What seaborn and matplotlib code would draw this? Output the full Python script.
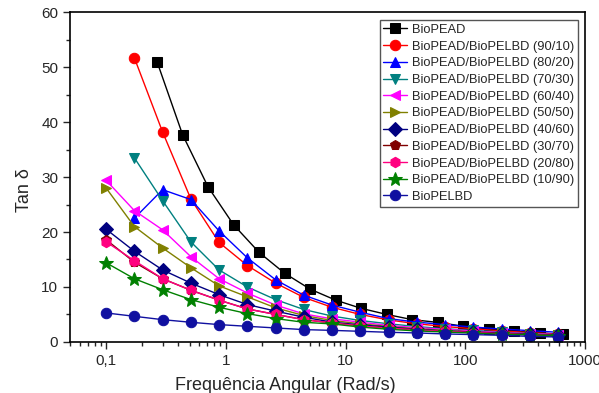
import numpy as np
import pandas as pd
import matplotlib
matplotlib.use("Agg")
import matplotlib.pyplot as plt
import seaborn as sns
from matplotlib.ticker import FixedLocator, FuncFormatter, NullFormatter

# Frequencies (rad/s)
freq_pead = [0.266, 0.435, 0.71, 1.16, 1.89, 3.09, 5.05, 8.25, 13.5, 22.0,
             36.0, 58.7, 96.0, 157, 256, 418, 650]
freq = [0.1, 0.172, 0.296, 0.51, 0.877, 1.51, 2.6, 4.47, 7.7, 13.2,
        22.8, 39.2, 67.5, 116, 200, 344, 597]

# Tan delta per sample
pead = [51.0, 37.7, 28.2, 21.3, 16.3, 12.5, 9.6, 7.6, 6.1, 5.0, 4.05, 3.55, 2.85, 2.35, 1.95, 1.65, 1.35]
b90_10 = [51.7, 38.2, 26.0, 18.1, 13.9, 10.7, 8.1, 6.3, 5.0, 4.0, 3.3, 2.8, 2.4, 2.0, 1.7, 1.4]
b80_20 = [22.5, 27.7, 25.9, 20.2, 15.3, 11.3, 8.5, 6.7, 5.4, 4.24, 3.6, 3.15, 2.7, 2.35, 2.05, 1.75]
b70_30 = [33.5, 25.7, 18.2, 13.1, 10.0, 7.7, 5.9, 4.7, 3.9, 3.3, 2.8, 2.4, 2.1, 1.8, 1.5, 1.3]
b60_40 = [29.4, 23.9, 20.4, 15.5, 11.5, 8.9, 6.7, 5.1, 4.2, 3.6, 3.0, 2.6, 2.3, 2.0, 1.7, 1.5, 1.3]
b50_50 = [28.0, 21.0, 17.1, 13.5, 10.2, 8.2, 6.2, 4.8, 3.9, 3.3, 2.8, 2.4, 2.1, 1.8, 1.6, 1.4, 1.2]
b40_60 = [20.5, 16.5, 13.1, 10.7, 8.6, 6.8, 5.6, 4.5, 3.6, 3.1, 2.7, 2.3, 2.0, 1.8, 1.6, 1.4, 1.2]
b30_70 = [18.6, 14.5, 11.5, 9.4, 7.6, 6.0, 5.0, 4.05, 3.45, 2.9, 2.5, 2.2, 1.9, 1.7, 1.5, 1.3, 1.1]
b20_80 = [18.2, 14.8, 11.5, 9.4, 7.6, 6.0, 5.0, 4.05, 3.45, 2.9, 2.5, 2.2, 1.9, 1.7, 1.5, 1.3, 1.1]
b10_90 = [14.4, 11.5, 9.5, 7.7, 6.3, 5.15, 4.25, 3.57, 3.27, 2.7, 2.3, 2.0, 1.8, 1.6, 1.4, 1.3, 1.1]
pelbd = [5.27, 4.66, 4.05, 3.57, 3.15, 2.84, 2.54, 2.24, 2.1, 1.93, 1.75, 1.63, 1.45, 1.33, 1.2, 1.0, 0.9]

labels = ["BioPEAD", "BioPEAD/BioPELBD (90/10)", "BioPEAD/BioPELBD (80/20)",
          "BioPEAD/BioPELBD (70/30)", "BioPEAD/BioPELBD (60/40)", "BioPEAD/BioPELBD (50/50)",
          "BioPEAD/BioPELBD (40/60)", "BioPEAD/BioPELBD (30/70)", "BioPEAD/BioPELBD (20/80)",
          "BioPEAD/BioPELBD (10/90)", "BioPELBD"]
series = [pead, b90_10, b80_20, b70_30, b60_40, b50_50, b40_60, b30_70, b20_80, b10_90, pelbd]
xs = [freq_pead, freq[1:], freq[1:], freq[1:], freq, freq, freq, freq, freq, freq, freq]
colors = ["#000000", "#FF0000", "#0000FF", "#008080", "#FF00FF", "#808000",
          "#000080", "#800000", "#FF0080", "#008000", "#1010A0"]
markers = ["s", "o", "^", "v", "<", ">", "D", "p", "h", "*", "o"]

sns.set_style("white")
plt.rcParams["font.family"] = ["Liberation Sans", "DejaVu Sans"]

fig = plt.figure(figsize=(5.99, 3.93), dpi=100)
ax = fig.add_axes([0.117, 0.130, 0.860, 0.839])

for x, y, lab, c, m in zip(xs, series, labels, colors, markers):
    ms = 10 if m == "*" else 7.5
    sns.lineplot(x=x, y=y, ax=ax, color=c, marker=m, markersize=ms,
                 markeredgecolor=c, linewidth=1, label=lab, sort=False)

ax.set_xscale("log")
ax.set_xlim(0.05, 1000)
ax.set_ylim(0, 60)
ax.xaxis.set_major_locator(FixedLocator([0.1, 1, 10, 100, 1000]))
ax.xaxis.set_major_formatter(FuncFormatter(lambda v, p: {0.1: "0,1"}.get(round(v, 3), f"{v:g}")))
ax.xaxis.set_minor_formatter(NullFormatter())
ax.set_yticks(range(0, 61, 10))
ax.set_yticks(range(5, 60, 10), minor=True)

for s in ax.spines.values():
    s.set_color("black")
    s.set_linewidth(1.2)
ax.tick_params(axis="both", which="major", direction="out", length=5, width=1,
               labelsize=11, bottom=True, left=True)
ax.tick_params(axis="both", which="minor", direction="out", length=3, width=1,
               bottom=True, left=True)

ax.set_xlabel("Frequência Angular (Rad/s)", fontsize=13)
ax.xaxis.set_label_coords(0.417, -0.105)
ax.set_ylabel("Tan δ", fontsize=13)
ax.yaxis.set_label_coords(-0.072, 0.46)

leg = ax.legend(loc="upper right", bbox_to_anchor=(0.986, 0.976), borderaxespad=0,
                fontsize=9.3, frameon=True, fancybox=False, edgecolor="#555555",
                framealpha=1, handlelength=1.8, labelspacing=0.36, borderpad=0.3,
                handletextpad=0.4)
leg.get_frame().set_linewidth(1)

fig.savefig("out.png", dpi=100)
